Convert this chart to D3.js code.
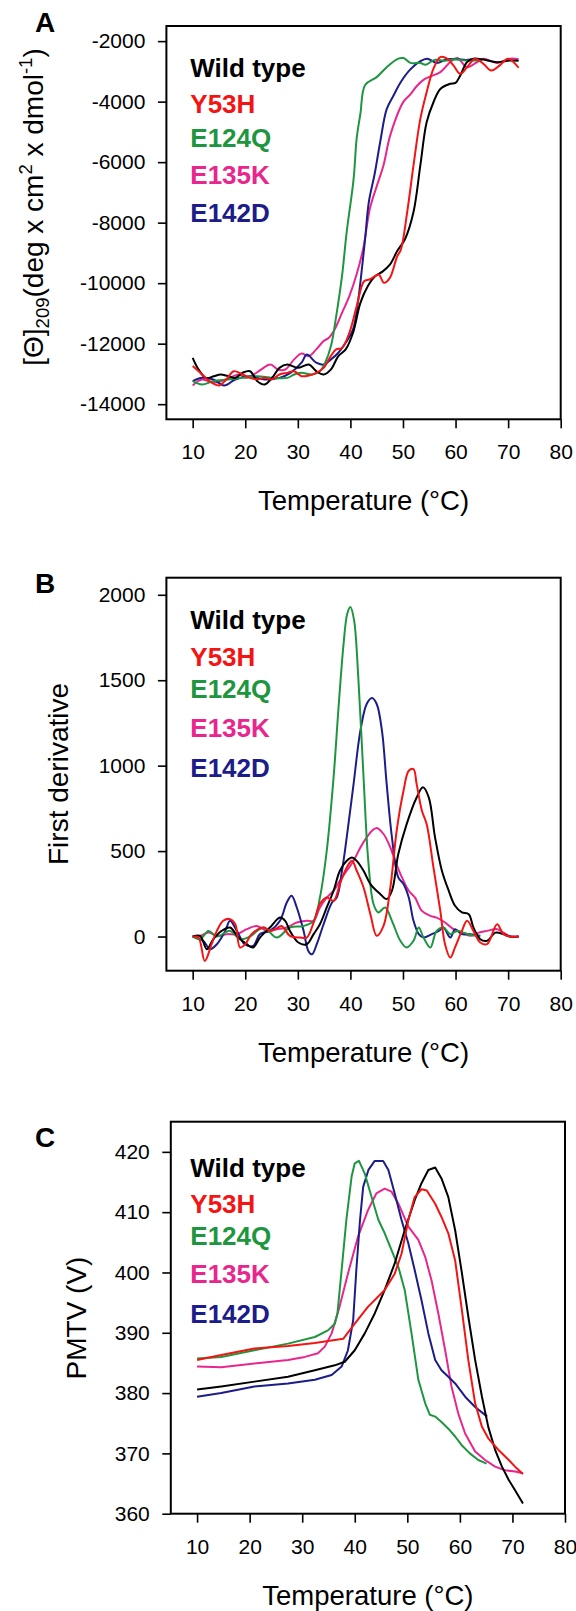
<!DOCTYPE html>
<html><head><meta charset="utf-8">
<script src="https://cdn.jsdelivr.net/npm/d3@7"></script>
<style>body{margin:0;background:#fff}svg{display:block}text{font-family:Arial,"Liberation Sans",sans-serif}</style>
</head><body><svg id="c" width="576" height="1611"></svg>
<script>
// ---------- data ----------
const seriesNames = ["Wild type", "Y53H", "E124Q", "E135K", "E142D"];
const tempTicks = [10, 20, 30, 40, 50, 60, 70, 80];
const ticksA = [-14000, -12000, -10000, -8000, -6000, -4000, -2000];
const ticksB = [0, 500, 1000, 1500, 2000];
const ticksC = [360, 370, 380, 390, 400, 410, 420];

// Panel A: [Θ]209 vs temperature
const aWild = [[10,-12470],[11.1,-12850],[12.5,-13130],[14,-13080],[15.3,-13020],[16.7,-13070],[18.1,-13130],[19.5,-12960],[20.9,-12910],[22.3,-13240],[23.7,-13350],[25.1,-13130],[26.5,-12800],[28,-12690],[30,-12800],[32.1,-12690],[33.5,-12910],[34.9,-13020],[36.3,-12850],[37.7,-12410],[39.1,-12190],[40.5,-11640],[41.9,-10650],[43.3,-10100],[44.7,-9770],[46.1,-9620],[47.5,-9390],[48.9,-8940],[50.4,-8540],[52,-7650],[53.3,-6110],[54.5,-4680],[55.8,-4020],[57.1,-3580],[59,-3410],[60,-3380],[60.9,-3135],[62.2,-2690],[63.4,-2580],[65.3,-2610],[67.9,-2700],[70.4,-2640],[72,-2650]];
const aY53H = [[10,-12740],[11.5,-12970],[13.2,-13240],[15,-13380],[16.4,-13185],[17.8,-12910],[19.5,-13020],[20.9,-13130],[22.3,-13180],[23.7,-13130],[25.1,-13180],[26.5,-13020],[28,-12965],[29.3,-12910],[30.7,-13075],[32.1,-13050],[33.5,-12965],[34.9,-12800],[36.3,-12400],[37.3,-12190],[38.4,-12140],[39.8,-11640],[41.2,-10760],[42.6,-9935],[43.6,-9880],[44.7,-9770],[45.4,-9715],[46.4,-9990],[47.5,-9825],[48.9,-9110],[49.6,-8890],[50.8,-7650],[52,-6110],[53.3,-4570],[54.5,-3690],[55.8,-2910],[57.1,-2530],[58.4,-2580],[59.6,-2800],[60.9,-3080],[62.2,-2860],[63.7,-2580],[65.3,-2750],[66.8,-2970],[68.4,-2800],[70,-2580],[72,-2880]];
const aE124Q = [[10,-13240],[11.8,-13350],[13.9,-13240],[16.7,-13185],[19.5,-13130],[22.3,-13075],[25.1,-13130],[28,-13130],[29.3,-13020],[30.7,-12965],[32.8,-13020],[34.2,-12910],[35.2,-12630],[36.3,-12080],[37.3,-11090],[38.4,-9770],[39.3,-8300],[40.6,-6570],[41.2,-5200],[41.9,-4400],[42.8,-3450],[45,-3190],[46.9,-2860],[49.1,-2580],[50.1,-2560],[51.4,-2720],[53.3,-2720],[54.3,-2780],[56,-2620],[58,-2650],[60,-2600],[62,-2640],[65,-2620]];
const aE135K = [[10,-13380],[11.8,-13185],[13.9,-13294],[15.3,-13240],[16.7,-13160],[18.8,-13020],[20.2,-13130],[21.6,-13020],[23,-12855],[24.8,-12690],[26.2,-12855],[27.6,-12855],[29.3,-12520],[30.7,-12325],[32.1,-12410],[33.5,-12190],[34.9,-11915],[35.9,-11805],[37,-11530],[38.4,-10980],[39.8,-10430],[41.2,-9700],[42.5,-8800],[43.7,-7540],[45,-6800],[46.3,-6100],[47.6,-5100],[50.1,-4000],[51.4,-3760],[52.6,-3490],[53.9,-3280],[55.2,-3170],[57.1,-3025],[59,-2690],[60.3,-2560],[62.2,-2860],[64.1,-2690],[65.3,-2580],[67.9,-2720],[70.4,-2580],[72,-2600]];
const aE142D = [[10,-13240],[11.8,-13130],[13.9,-13185],[16,-13380],[18.1,-13185],[20.9,-13075],[23.7,-13185],[26.5,-13130],[28.6,-12965],[30.7,-12630],[31.7,-12360],[33.5,-12630],[34.9,-12690],[36.3,-12520],[37.7,-12300],[39.1,-11970],[40.5,-11530],[41.5,-10540],[42.2,-9500],[42.8,-8530],[43.5,-7320],[44.6,-6400],[45.7,-5300],[46.9,-4250],[48.2,-3800],[49.5,-3375],[51.4,-2935],[53.3,-2660],[54.6,-2580],[56.4,-2720],[58.4,-2600],[60.3,-2600],[62,-2620],[64,-2600],[65,-2620]];

// Panel B: first derivative
const bWild = [[10,0],[11.4,4],[12.7,-74],[13.9,-16],[15.5,33],[17.1,53],[18.7,-6],[20.3,-45],[21.5,-64],[22.8,-6],[24.7,53],[26.6,111],[27.6,92],[28.5,33],[30.1,-35],[31.7,-45],[33,14],[34.2,72],[35.5,170],[36.8,268],[38,385],[39.3,443],[40.3,463],[41.2,443],[42.5,385],[43.8,307],[45.7,248],[46.9,219],[47.9,268],[49.1,482],[50.7,658],[52.6,814],[53.8,873],[54.9,814],[56.1,580],[57.4,385],[58.7,268],[59.9,180],[61.2,141],[62.5,131],[63.4,53],[64.7,-16],[66,-25],[67.6,23],[69.1,14],[70.4,0],[72,0]];
const bY53H = [[10,0],[11.1,-6],[12.3,-143],[13.6,-45],[14.6,33],[15.8,92],[17.1,102],[18.1,72],[19,-64],[20,-45],[21.2,14],[23.5,53],[24.7,33],[25.7,43],[26.9,62],[28.5,4],[30.4,-6],[31.7,-6],[33,82],[34.2,190],[35.5,228],[36.8,209],[38,307],[39.3,404],[40.3,443],[41.2,385],[42.5,287],[43.8,131],[45,4],[46.3,62],[47.6,287],[48.8,619],[50.1,853],[51.1,970],[52,980],[52.6,892],[53.6,736],[54.5,658],[55.8,404],[57.1,150],[58,-45],[59,-123],[59.9,-64],[61.2,33],[62.2,92],[63.4,33],[64.7,-35],[66,-45],[67.9,72],[69.1,14],[70.4,0],[72,0]];
const bE124Q = [[10,0],[11.4,-16],[13,33],[14.6,0],[17.1,33],[19,-16],[20.9,0],[23.5,53],[26,-6],[28.5,53],[31.1,62],[33,92],[34.2,228],[35.5,502],[36.8,931],[37.7,1322],[38.7,1713],[39.4,1889],[40,1928],[40.7,1850],[41.5,1517],[42.5,931],[43.4,443],[44.4,190],[45.3,141],[46.6,170],[47.9,92],[49.5,-25],[50.7,-64],[52,-25],[53,53],[53.9,-6],[55.2,-64],[56.4,33],[57.7,53],[59,14],[60.3,33],[61.5,23],[62.8,10],[64.7,0]];
const bE135K = [[10,0],[11.4,4],[13,23],[14.6,4],[16.5,14],[18.4,14],[20.3,43],[22.2,62],[24.1,33],[26,43],[27.9,53],[29.8,82],[31.7,92],[33,92],[34.2,170],[35.5,228],[36.8,268],[38,326],[39.3,385],[40.6,443],[41.9,521],[43.1,580],[44.1,619],[45,635],[46.3,600],[47.6,521],[48.5,443],[49.8,346],[51.1,268],[52.3,228],[53.6,150],[55.2,121],[56.4,111],[58,82],[59.6,43],[61.2,23],[62.8,4],[64.4,23],[66,33],[67.9,43],[69.1,23],[70.4,0],[72,0]];
const bE142D = [[10,0],[12,-25],[13.3,-74],[14.6,-45],[16.2,33],[17.1,92],[18.4,33],[19.9,-45],[21.5,-55],[22.8,14],[24.7,33],[26.6,92],[27.9,199],[28.8,238],[29.8,170],[31.1,33],[32,-84],[32.7,-104],[33.6,-45],[34.9,72],[36.5,199],[37.4,228],[38.4,385],[39.3,580],[40.6,892],[41.9,1205],[43.1,1361],[44.1,1396],[45,1361],[46,1205],[46.9,892],[47.9,580],[49.1,346],[50.1,307],[51.1,228],[52,92],[53,14],[53.9,-6],[55.5,14],[56.8,33],[57.7,53],[59,-6],[59.9,43],[61.2,14],[62.8,14],[64.7,4]];

// Panel C: PMTV (V)
const cWild = [[10,380.6],[14.6,381.1],[20.9,381.9],[27.3,382.7],[32.4,383.8],[36.2,384.6],[38.1,385.2],[40,387.1],[41.9,389.9],[43.8,393.2],[45.7,397.1],[47.6,401.5],[49.5,407],[51.4,412],[52.7,414.8],[54,417],[55.3,417.4],[56.5,415.6],[57.8,412.5],[59.1,407],[60.3,400.4],[61.6,392.7],[62.9,385.5],[64.2,379.4],[65.4,374.4],[66.7,370.6],[68,367.8],[69.3,365.6],[70.5,363.9],[72,361.7]];
const cY53H = [[10,385.5],[14.6,386.3],[20.9,387.4],[27.3,387.8],[32.4,388.3],[36.2,388.8],[37.8,389],[40,391.5],[42.5,394.3],[45.7,397.1],[47.6,399.8],[48.9,403.1],[50.2,408.7],[51.4,412.5],[52.7,413.8],[53.7,413.6],[55.3,411.4],[56.5,409.2],[57.8,406.5],[59.1,402],[60.3,394.3],[61.6,385.5],[62.9,378.3],[64.2,374.4],[65.4,372.5],[67.3,370.6],[69.3,368.9],[70.5,367.8],[72,366.6]];
const cE124Q = [[10,385.75],[14.6,386],[20.9,387.1],[27.3,388.2],[32.4,389.3],[34.9,390.4],[36.2,391.5],[36.7,393.2],[37.5,400.4],[38.4,408.7],[39.4,415.9],[40,418.1],[40.8,418.5],[41.9,416.4],[43.2,412.5],[44.5,408.7],[45.7,406.5],[47,403.7],[48.3,400.9],[49.5,397.1],[50.8,389.9],[52.1,382.2],[53.4,378.3],[54.3,376.4],[55.3,376.1],[56.5,375.2],[57.8,374.1],[59.1,372.8],[60.3,371.4],[61.9,370],[63.5,368.9],[65.1,368.3]];
const cE135K = [[10,384.4],[14.6,384.3],[20.9,384.9],[27.3,385.5],[30.5,386],[33,386.6],[34.3,387.7],[35.6,389.9],[37.1,394.3],[38.7,399.8],[40.6,405.9],[42.5,410.3],[44.1,413.1],[45.7,413.9],[47,413.4],[48.3,411.4],[50.2,407.6],[52.1,405.4],[53.4,402.6],[54.6,398.7],[55.9,393.2],[57.2,387.1],[58.4,381.1],[59.7,376.6],[61,373.3],[62.9,370.3],[64.8,368.9],[66.7,367.8],[68.6,367.2],[70.5,367],[72,366.7]];
const cE142D = [[10,379.4],[14.6,380],[20.9,381.1],[27.3,381.6],[32.4,382.2],[35.6,383],[37.5,384.4],[38.7,387.1],[39.7,392.1],[40.3,400.4],[41,408.7],[41.6,414.2],[42.6,417],[43.8,418.5],[45.4,418.5],[46.4,417],[47.6,413.1],[48.9,408.7],[50.2,404.8],[51.4,400.4],[52.7,395.4],[54,389.9],[55.3,385.5],[56.5,383.8],[57.8,382.7],[59.1,381.6],[61,379.4],[62.9,377.7],[65.2,376.1]];

// ---------- styles / layout ----------
const colors = ["#000000", "#f41414", "#1e9640", "#e8268e", "#1c1c8a"];
const drawOrder = [3, 4, 2, 0, 1];
const FONT = 'Arial, "Liberation Sans", sans-serif';

const panels = [
  { letter: "A", letterY: 32.3, left: 166.4, right: 560.7, top: 26, bottom: 419.3,
    yDomain: [-14500, -1500], yTicks: ticksA, data: [aWild, aY53H, aE124Q, aE135K, aE142D],
    legendY: [77, 113.3, 146.7, 184.3, 221.7], curve: d3.curveCatmullRom.alpha(0.5),
    yTitle: "A", yTitleX: 43, yTitleY: 207 },
  { letter: "B", letterY: 593.3, left: 166.4, right: 560.7, top: 577.7, bottom: 970.7,
    yDomain: [-200, 2100], yTicks: ticksB, data: [bWild, bY53H, bE124Q, bE135K, bE142D],
    legendY: [629.3, 666, 698.3, 736.7, 777.3], curve: d3.curveCatmullRom.alpha(0.5),
    yTitle: "First derivative", yTitleX: 68, yTitleY: 774 },
  { letter: "C", letterY: 1146.7, left: 170.8, right: 565, top: 1121.7, bottom: 1513.7,
    yDomain: [360, 425], yTicks: ticksC, data: [cWild, cY53H, cE124Q, cE135K, cE142D],
    legendY: [1176.7, 1213.3, 1245, 1282.7, 1323.3], curve: d3.curveLinear,
    yTitle: "PMTV (V)", yTitleX: 86, yTitleY: 1318 }
];

const svg = d3.select("#c");
svg.append("rect").attr("width", 576).attr("height", 1611).attr("fill", "#fff");

panels.forEach(p => {
  const x = d3.scaleLinear().domain([5, 80]).range([p.left, p.right]);
  const y = d3.scaleLinear().domain(p.yDomain).range([p.bottom, p.top]);
  const g = svg.append("g");

  const cid = "clip" + p.letter;
  svg.append("clipPath").attr("id", cid).append("rect")
    .attr("x", p.left).attr("y", p.top).attr("width", p.right - p.left).attr("height", p.bottom - p.top);

  const line = d3.line().x(d => x(d[0])).y(d => y(d[1])).curve(p.curve);
  drawOrder.forEach(i => {
    g.append("path").datum(p.data[i])
      .attr("d", line).attr("fill", "none")
      .attr("stroke", colors[i]).attr("stroke-width", 2)
      .attr("stroke-linejoin", "round").attr("clip-path", `url(#${cid})`);
  });

  const xa = g.append("g").attr("transform", `translate(0,${p.bottom})`)
    .call(d3.axisBottom(x).tickValues(tempTicks).tickSize(9).tickPadding(16).tickFormat(d => String(d)));
  const ya = g.append("g").attr("transform", `translate(${p.left},0)`)
    .call(d3.axisLeft(y).tickValues(p.yTicks).tickSize(8.5).tickPadding(12.5).tickFormat(d => String(d)));
  [xa, ya].forEach(a => {
    a.select(".domain").remove();
    a.selectAll(".tick line").attr("stroke", "#000").attr("stroke-width", 1.6);
    a.selectAll(".tick text").attr("font-family", FONT).attr("font-size", 21).attr("fill", "#000");
  });

  g.append("rect").attr("x", p.left).attr("y", p.top)
    .attr("width", p.right - p.left).attr("height", p.bottom - p.top)
    .attr("fill", "none").attr("stroke", "#000").attr("stroke-width", 2);

  g.append("text").attr("x", (p.left + p.right) / 2).attr("y", p.bottom + 91)
    .attr("text-anchor", "middle").attr("font-family", FONT).attr("font-size", 27.5)
    .text("Temperature (°C)");

  const yt = g.append("text").attr("transform", `translate(${p.yTitleX},${p.yTitleY}) rotate(-90)`)
    .attr("text-anchor", "middle").attr("font-family", FONT).attr("font-size", 28);
  if (p.letter === "A") {
    yt.append("tspan").text("[Θ]");
    yt.append("tspan").attr("font-size", 18.5).attr("dy", 6).text("209");
    yt.append("tspan").attr("dy", -6).text("(deg x cm");
    yt.append("tspan").attr("font-size", 18.5).attr("dy", -11).text("2");
    yt.append("tspan").attr("dy", 11).text(" x dmol");
    yt.append("tspan").attr("font-size", 18.5).attr("dy", -11).text("-1");
    yt.append("tspan").attr("dy", 11).text(")");
  } else {
    yt.text(p.yTitle);
  }

  g.append("text").attr("x", 35).attr("y", p.letterY).attr("font-family", FONT)
    .attr("font-size", 28).attr("font-weight", "bold").text(p.letter);

  seriesNames.forEach((name, i) => {
    g.append("text").attr("x", 190.3).attr("y", p.legendY[i])
      .attr("font-family", FONT).attr("font-size", 26).attr("font-weight", "bold")
      .attr("fill", colors[i]).text(name);
  });
});
</script></body></html>
